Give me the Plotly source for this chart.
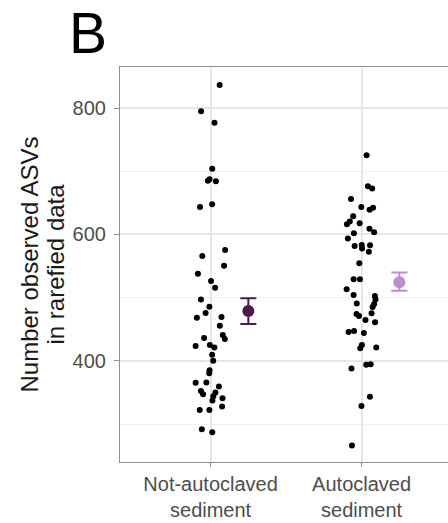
import plotly.graph_objects as go

# ---- data ----
groups = ["Not-autoclaved<br>sediment", "Autoclaved<br>sediment"]

asv_not = [836.6, 794.8, 776.6, 704.0, 685.0, 687.4, 684.2, 643.6, 647.9, 575.3,
           565.8, 550.5, 537.8, 526.3, 515.7, 497.1, 485.7, 475.8, 468.4, 469.5,
           455.6, 441.1, 434.7, 436.3, 423.7, 425.3, 421.3, 409.8, 400.3, 385.3,
           380.6, 365.3, 365.6, 359.4, 352.3, 347.1, 349.9, 343.9, 340.8, 337.2,
           327.7, 322.3, 322.2, 291.8, 287.1]
jitter_not = [0.060, -0.063, 0.026, 0.011, -0.018, -0.007, 0.035, -0.070, 0.010, 0.096,
              -0.055, 0.089, -0.084, 0.003, 0.030, -0.064, -0.008, -0.033, -0.091, 0.072,
              0.061, 0.081, 0.094, -0.043, -0.099, -0.005, 0.025, 0.010, 0.017, -0.007,
              -0.009, -0.099, -0.028, 0.055, -0.064, -0.050, 0.032, 0.018, 0.079, 0.012,
              0.076, -0.072, -0.008, -0.058, 0.011]

asv_auto = [725.3, 676.3, 672.7, 656.3, 643.5, 639.2, 642.1, 629.0, 620.7, 616.3,
            617.9, 609.2, 603.4, 602.1, 593.7, 581.6, 583.2, 577.8, 582.8, 572.6,
            554.3, 529.0, 529.0, 513.2, 504.2, 502.6, 497.1, 490.8, 490.0, 485.3,
            474.2, 471.1, 475.3, 464.7, 461.3, 445.8, 447.1, 444.2, 425.3, 420.1,
            421.3, 387.8, 393.7, 394.8, 343.2, 328.5, 266.3]
jitter_auto = [0.033, 0.042, 0.070, -0.070, -0.002, 0.053, 0.076, -0.056, -0.078, -0.097,
               -0.013, 0.052, 0.083, -0.051, -0.091, -0.046, 0.001, 0.003, 0.056, 0.048,
               -0.015, -0.053, -0.011, -0.099, -0.053, 0.088, 0.092, -0.032, 0.083, 0.073,
               -0.034, -0.017, 0.066, 0.026, 0.089, -0.086, -0.050, 0.015, 0.002, -0.009,
               0.097, -0.067, 0.031, 0.060, 0.055, -0.001, -0.064]

mean_asv = [479.0, 524.5]
err_upper = [499.0, 540.0]
err_lower = [458.5, 511.0]

# ---- styling ----
FONT = "Liberation Sans, Arial, Helvetica, sans-serif"
mean_colors = ["#4b1b4e", "#c08ad5"]
NUDGE = 0.25
border = "#8f8f8f"

fig = go.Figure()

fig.add_trace(go.Scatter(
    x=[1 + j for j in jitter_not], y=asv_not, mode="markers",
    marker=dict(color="black", size=6, line=dict(width=0)),
    showlegend=False, hoverinfo="y"))
fig.add_trace(go.Scatter(
    x=[2 + j for j in jitter_auto], y=asv_auto, mode="markers",
    marker=dict(color="black", size=6, line=dict(width=0)),
    showlegend=False, hoverinfo="y"))

for i in range(2):
    fig.add_trace(go.Scatter(
        x=[i + 1 + NUDGE], y=[mean_asv[i]], mode="markers",
        marker=dict(color=mean_colors[i], size=12, line=dict(width=0)),
        error_y=dict(type="data", symmetric=False,
                     array=[err_upper[i] - mean_asv[i]],
                     arrayminus=[mean_asv[i] - err_lower[i]],
                     color=mean_colors[i], thickness=2, width=8),
        showlegend=False))

fig.update_layout(
    width=448, height=523,
    margin=dict(l=120, r=0, t=67, b=61),
    paper_bgcolor="white", plot_bgcolor="white",
    font=dict(family=FONT, color="#4d4d4d"),
    xaxis=dict(
        range=[0.4, 0.4 + 328 / 151.0],
        tickvals=[1, 2], ticktext=groups,
        tickfont=dict(size=20, color="#4d4d4d", family=FONT),
        ticks="outside", ticklen=4, tickcolor=border, tickwidth=1.2,
        showgrid=True, gridcolor="#e6e6e6", gridwidth=1.6,
        showline=True, linecolor=border, linewidth=1.2, mirror=True,
        zeroline=False, fixedrange=True),
    yaxis=dict(
        range=[240, 865],
        tickvals=[400, 600, 800],
        tickfont=dict(size=20, color="#4d4d4d", family=FONT),
        ticks="outside", ticklen=5, tickcolor=border, tickwidth=1.2,
        ticklabelstandoff=4,
        showgrid=True, gridcolor="#e6e6e6", gridwidth=1.6,
        minor=dict(tickvals=[300, 500, 700], showgrid=True,
                   gridcolor="#efefef", gridwidth=1.2, ticks=""),
        showline=True, linecolor=border, linewidth=1.2, mirror=False,
        zeroline=False, fixedrange=True),
    annotations=[
        dict(text="B", xref="paper", yref="paper", x=(67 - 120) / 328.0,
             y=1 + (67 - 33) / 395.0, xanchor="left", yanchor="middle",
             showarrow=False, font=dict(size=57, color="black", family=FONT)),
        dict(text="Number observed ASVs", xref="paper", yref="paper",
             x=(29 - 120) / 328.0, y=0.5, xanchor="center", yanchor="middle",
             textangle=-90, showarrow=False,
             font=dict(size=24, color="#1a1a1a", family=FONT)),
        dict(text="in rarefied data", xref="paper", yref="paper",
             x=(55 - 120) / 328.0, y=0.5, xanchor="center", yanchor="middle",
             textangle=-90, showarrow=False,
             font=dict(size=24, color="#1a1a1a", family=FONT)),
    ],
)

fig.write_html("out.html")
